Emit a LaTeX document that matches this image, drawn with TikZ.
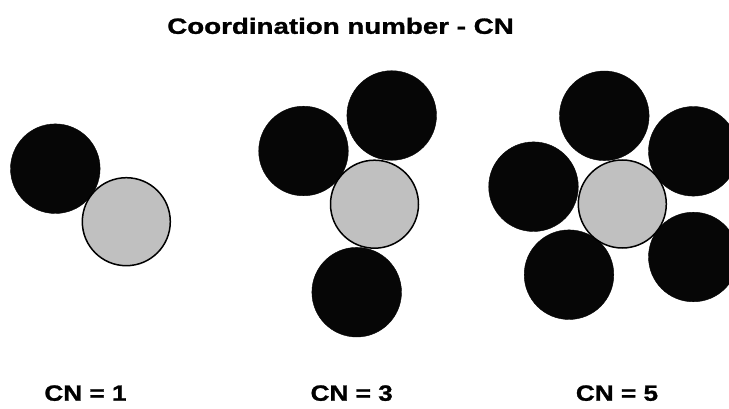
\documentclass[tikz,border=0pt]{standalone}
\usepackage{fontspec}
\setmainfont{Liberation Sans}
\newfontfamily\titlefont{Liberation Sans Bold}[FakeStretch=1.26,FakeBold=1.2]
\newfontfamily\labelfont{Liberation Sans Bold}[FakeStretch=1.19,FakeBold=1.2]
\definecolor{ballblack}{HTML}{060606}
\definecolor{ballgray}{HTML}{C0C0C0}
\begin{document}
\begin{tikzpicture}[x=1pt,y=-1pt,
  blackball/.style={circle,fill=ballblack,draw=ballblack,line width=0.4pt,minimum size=89.6pt,inner sep=0pt},
  grayball/.style={circle,fill=ballgray,draw=black,line width=1.5pt,minimum size=88pt,inner sep=0pt},
  titletext/.style={anchor=base,inner sep=0pt,font=\titlefont\fontsize{22}{26}\selectfont},
  cnlabel/.style={anchor=base,inner sep=0pt,font=\labelfont\fontsize{22}{26}\selectfont}]
\useasboundingbox (0,0) rectangle (729,409);
\clip (0,0) rectangle (729,409);
\fill[white] (0,0) rectangle (729,409);
\node[titletext] (title) at (340.5,33.8) {Coordination number - CN};
% CN = 1
\node[blackball] (b11) at (55.3,168.7) {};
\node[grayball] (g1) at (126.3,221.7) {};
% CN = 3
\node[blackball] (b31) at (391.7,115.5) {};
\node[blackball] (b32) at (303.5,151) {};
\node[blackball] (b33) at (356.7,292.2) {};
\node[grayball] (g3) at (374.5,204.2) {};
% CN = 5
\node[blackball] (b51) at (604.3,115.8) {};
\node[blackball] (b52) at (693.3,151.3) {};
\node[blackball] (b53) at (533.5,186.7) {};
\node[blackball] (b54) at (569,274.7) {};
\node[blackball] (b55) at (693.3,257) {};
\node[grayball] (g5) at (622.3,204) {};
% labels
\node[cnlabel] (l1) at (85.5,400.7) {CN = 1};
\node[cnlabel] (l3) at (351.7,400.7) {CN = 3};
\node[cnlabel] (l5) at (617,400.7) {CN = 5};
\end{tikzpicture}
\end{document}
